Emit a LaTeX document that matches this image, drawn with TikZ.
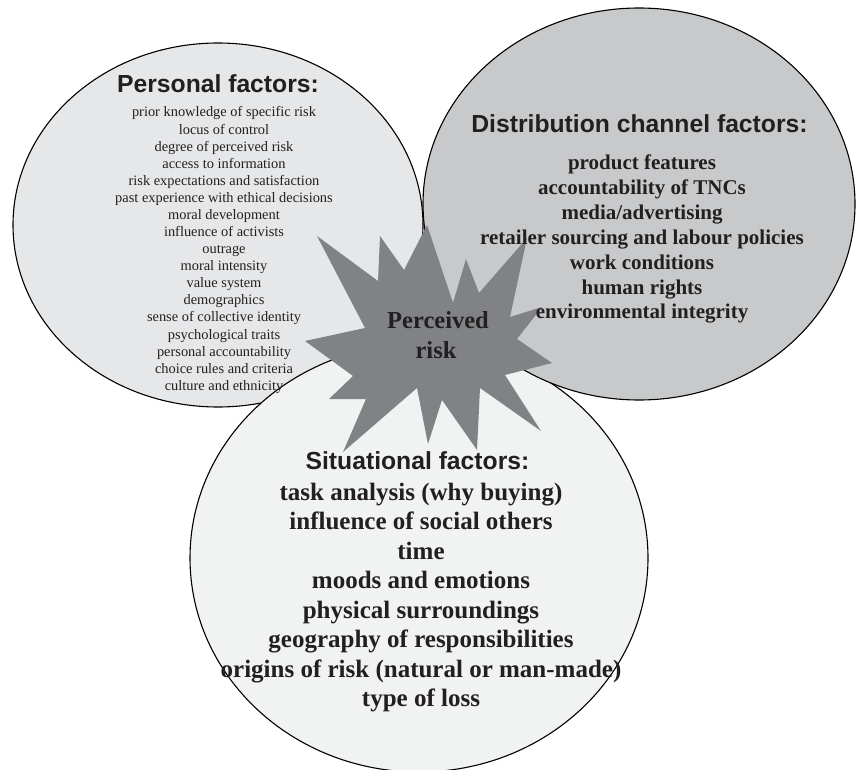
\documentclass[tikz,border=0pt]{standalone}
\usepackage{fontspec}
\setmainfont{Liberation Serif}
\setsansfont{Liberation Sans}
\usetikzlibrary{shapes.geometric}
\definecolor{inkc}{HTML}{231F20}
\definecolor{personalfill}{HTML}{E6E7E8}
\definecolor{channelfill}{HTML}{C8C9CB}
\definecolor{situationfill}{HTML}{F1F2F2}
\definecolor{burstfill}{HTML}{808285}
\begin{document}
\begin{tikzpicture}[x=1pt,y=-1pt,
  factorzone/.style={ellipse, draw=black, line width=1.1pt, inner sep=0pt},
  heading/.style={font=\sffamily\bfseries\fontsize{24.7}{28}\selectfont, text=inkc, anchor=base, inner sep=0pt},
  smallitem/.style={font=\fontsize{14.4}{17}\selectfont, text=inkc, anchor=base, inner sep=0pt},
  channelitem/.style={font=\bfseries\fontsize{21}{25}\selectfont, text=inkc, anchor=base, inner sep=0pt},
  situitem/.style={font=\bfseries\fontsize{25}{30}\selectfont, text=inkc, anchor=base, inner sep=0pt},
  burstlabel/.style={font=\bfseries\fontsize{24.5}{30}\selectfont, text=inkc, anchor=base, inner sep=0pt}]
\useasboundingbox (0,0) rectangle (856,770);

% the three groups of factors
\node[factorzone, fill=personalfill, minimum width=410pt, minimum height=364pt] (personal) at (218,225) {};
\node[factorzone, fill=situationfill, minimum width=458pt, minimum height=428pt] (situational) at (419,558) {};
\node[factorzone, fill=channelfill, minimum width=432pt, minimum height=392pt] (channel) at (639,204) {};

% central burst
\fill[burstfill] (305,341) -- (365,328) -- (317,236) -- (378,281) -- (380,236)
  -- (404,270) -- (427,225) -- (453,303) -- (466,259) -- (479,293)
  -- (527,238) -- (510,317) -- (542,307) -- (517,339) -- (552,363)
  -- (505,375) -- (541,431) -- (480,388) -- (477,450) -- (442,400)
  -- (428,444) -- (417,388) -- (343,452) -- (366,399) -- (329,399)
  -- (353,376) -- cycle;
\node[burstlabel] (perceived) at (438,328) {Perceived};
\node[burstlabel] (risk) at (436,358) {risk};

% personal factors
\node[heading] (personalhead) at (218,93) {Personal factors:};
\foreach \t [count=\i] in {prior knowledge of specific risk, locus of control,
  degree of perceived risk, access to information, risk expectations and satisfaction,
  past experience with ethical decisions, moral development, influence of activists,
  outrage, moral intensity, value system, demographics, sense of collective identity,
  psychological traits, personal accountability, choice rules and criteria,
  culture and ethnicity}
  \node[smallitem] (p\i) at (224,{117+17.08*(\i-1)}) {\t};

% distribution channel factors
\node[heading] (channelhead) at (639.5,133) {Distribution channel factors:};
\foreach \t [count=\i] in {product features, accountability of TNCs, media/advertising,
  retailer sourcing and labour policies, work conditions, human rights,
  environmental integrity}
  \node[channelitem] (d\i) at (642,{170+24.8*(\i-1)}) {\t};

% situational factors
\node[heading] (situhead) at (417.5,469) {Situational factors:};
\foreach \t [count=\i] in {task analysis (why buying), influence of social others, time,
  moods and emotions, physical surroundings, geography of responsibilities,
  origins of risk (natural or man-made), type of loss}
  \node[situitem] (s\i) at (421,{500+29.5*(\i-1)}) {\t};
\end{tikzpicture}
\end{document}
